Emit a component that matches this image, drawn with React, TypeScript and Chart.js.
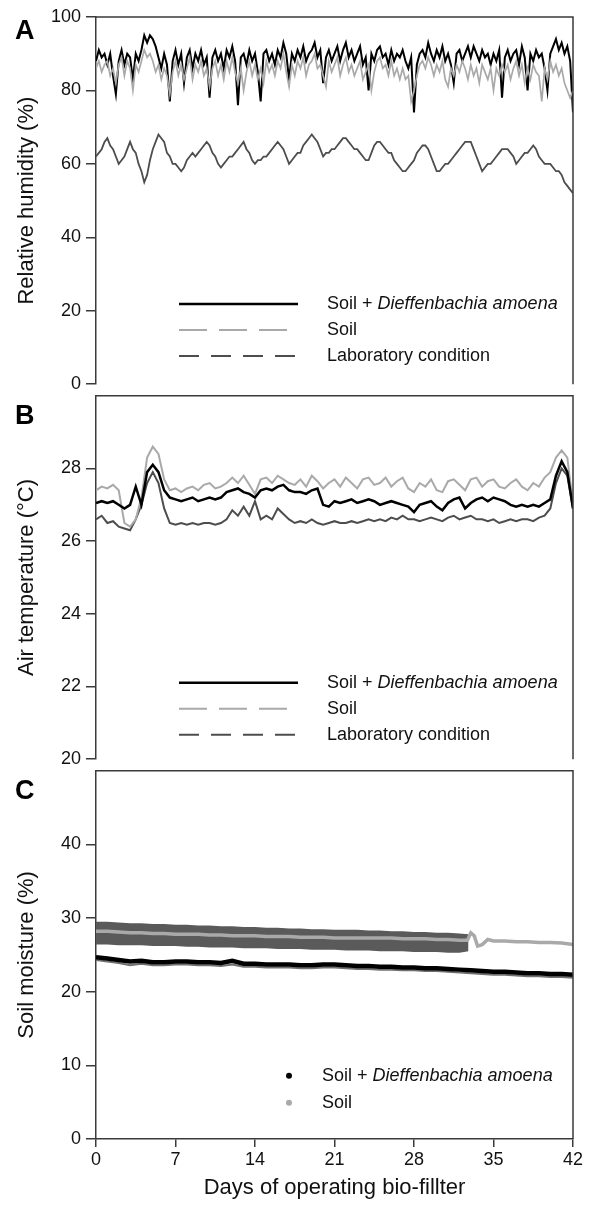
import React, { useEffect, useRef } from "react";
import { Chart, registerables } from "chart.js";
Chart.register(...registerables);

// ---------- DATA ----------
const STEP_A = 0.25; // days between readings, panel A
const STEP_B = 0.5; // panel B
const X_TICKS = [0, 7, 14, 21, 28, 35, 42];

// Panel A: relative humidity (%)
const rhPlant = [
  88, 91, 89, 90, 87, 90, 84, 79, 88, 91, 87, 90, 89, 83, 90, 88,
  91, 95, 93, 95, 94, 92, 89, 86, 90, 87, 77, 88, 91, 87, 90, 82,
  89, 91, 86, 90, 88, 91, 87, 89, 78, 89, 91, 88, 90, 86, 91, 89,
  92, 88, 76, 89, 90, 87, 91, 88, 90, 85, 77, 90, 91, 88, 90, 87,
  91, 89, 93, 90, 83, 90, 88, 91, 89, 92, 88, 90, 91, 93, 89, 91,
  82, 89, 91, 88, 90, 92, 88, 91, 93, 89, 91, 88, 90, 92, 87, 89,
  80, 90, 88, 91, 92, 89, 90, 87, 91, 88, 90, 89, 91, 88, 86, 89,
  74, 87, 90, 91, 89, 93, 90, 88, 91, 89, 92, 88, 90, 87, 82, 90,
  91, 88, 90, 92, 89, 92, 90, 88, 91, 89, 90, 87, 90, 88, 91, 78,
  89, 91, 88, 90, 91, 87, 92, 89, 80, 90, 88, 91, 89, 90, 86, 80,
  90, 92, 94, 91, 93, 90, 92, 88, 74,
];
const rhSoil = [
  86, 88, 85, 87, 88, 84, 86, 82, 87, 89, 84, 88, 86, 80, 87, 85,
  88, 91, 89, 90, 88, 85, 87, 83, 86, 84, 79, 85, 88, 84, 87, 83,
  86, 89, 83, 87, 85, 88, 84, 86, 81, 86, 88, 84, 87, 83, 88, 85,
  89, 85, 82, 86, 80, 85, 88, 84, 87, 83, 86, 82, 88, 85, 87, 84,
  88, 86, 90, 85, 81, 87, 84, 88, 86, 89, 84, 87, 88, 90, 86, 87,
  84, 81, 88, 85, 87, 89, 84, 87, 89, 85, 87, 84, 86, 88, 83, 85,
  87, 80, 85, 88, 89, 86, 87, 84, 88, 84, 86, 83, 86, 83, 84, 77,
  80, 84, 87, 88, 86, 89, 87, 84, 87, 85, 88, 83, 81, 86, 84, 87,
  85, 88, 86, 83, 87, 84, 86, 82, 87, 85, 83, 86, 80, 86, 84, 87,
  85, 87, 83, 86, 88, 84, 87, 82, 86, 83, 87, 85, 84, 77, 86, 83,
  88, 85, 87, 84, 86, 82, 80, 78, 80,
];
const rhLab = [
  62, 63, 64, 66, 67, 65, 64, 62, 60, 61, 62, 64, 66, 64, 63, 60,
  58, 55, 57, 61, 64, 66, 68, 67, 66, 63, 62, 60, 60, 59, 58, 59,
  61, 62, 63, 62, 63, 64, 65, 66, 65, 63, 62, 60, 59, 60, 61, 62,
  62, 63, 64, 65, 66, 64, 63, 61, 60, 61, 61, 62, 62, 63, 64, 65,
  66, 65, 64, 62, 60, 61, 62, 63, 63, 65, 66, 67, 68, 67, 66, 64,
  62, 63, 63, 64, 64, 65, 66, 67, 67, 66, 65, 64, 64, 63, 62, 61,
  61, 63, 65, 66, 66, 65, 64, 63, 63, 61, 60, 59, 58, 58, 59, 60,
  61, 63, 64, 65, 65, 64, 62, 60, 58, 58, 59, 60, 60, 61, 62, 63,
  64, 65, 66, 66, 66, 64, 62, 60, 58, 59, 60, 60, 61, 62, 63, 64,
  64, 64, 63, 62, 60, 61, 62, 63, 63, 64, 65, 64, 62, 61, 60, 60,
  60, 59, 58, 58, 57, 55, 54, 53, 52,
];

// Panel B: air temperature (°C)
const tPlant = [
  27.05, 27.1, 27.05, 27.1, 27.0, 26.9, 27.0, 27.5, 27.0, 27.9,
  28.1, 27.9, 27.4, 27.2, 27.15, 27.1, 27.15, 27.2, 27.1, 27.15,
  27.2, 27.15, 27.2, 27.35, 27.4, 27.45, 27.35, 27.3, 27.2, 27.4,
  27.45, 27.4, 27.5, 27.55, 27.4, 27.35, 27.35, 27.3, 27.4, 27.45,
  27.0, 26.95, 27.1, 27.05, 27.1, 27.15, 27.05, 27.1, 27.15, 27.1,
  27.0, 27.05, 27.1, 27.05, 27.0, 26.95, 26.8, 27.0, 27.05, 27.1,
  26.95, 26.85, 27.05, 27.15, 27.2, 26.9, 27.05, 27.15, 27.2, 27.1,
  27.2, 27.15, 27.1, 27.0, 26.95, 27.0, 26.95, 27.0, 26.95, 27.05,
  27.15, 27.8, 28.2, 27.9, 26.9,
];
const tSoil = [
  27.4, 27.5, 27.45, 27.55, 27.4, 26.5, 26.4, 26.6, 27.2, 28.3,
  28.6, 28.4, 27.7, 27.4, 27.45, 27.35, 27.45, 27.5, 27.4, 27.55,
  27.6, 27.45, 27.5, 27.6, 27.75, 27.6, 27.8, 27.55, 27.3, 27.7,
  27.75, 27.6, 27.8, 27.7, 27.6, 27.55, 27.7, 27.5, 27.8, 27.65,
  27.45, 27.6, 27.7, 27.5, 27.75, 27.6, 27.45, 27.7, 27.75, 27.55,
  27.6, 27.75, 27.5, 27.65, 27.75, 27.45, 27.35, 27.6, 27.5, 27.7,
  27.4, 27.35, 27.65, 27.7, 27.55, 27.4, 27.7, 27.75, 27.5, 27.65,
  27.7, 27.5, 27.45, 27.6, 27.7, 27.5, 27.4, 27.6, 27.5, 27.75,
  27.9, 28.3, 28.5, 28.3, 27.0,
];
const tLab = [
  26.6, 26.7, 26.5, 26.55, 26.4, 26.35, 26.3, 26.6, 27.0, 27.6,
  27.9, 27.6, 26.9, 26.5, 26.45, 26.5, 26.45, 26.5, 26.45, 26.5,
  26.5, 26.45, 26.5, 26.6, 26.85, 26.7, 26.95, 26.7, 27.1, 26.6,
  26.7, 26.6, 26.9, 26.75, 26.6, 26.5, 26.55, 26.5, 26.6, 26.5,
  26.45, 26.5, 26.55, 26.5, 26.5, 26.55, 26.5, 26.55, 26.6, 26.55,
  26.6, 26.55, 26.65, 26.6, 26.7, 26.6, 26.6, 26.55, 26.6, 26.65,
  26.6, 26.55, 26.65, 26.7, 26.6, 26.65, 26.7, 26.6, 26.6, 26.55,
  26.6, 26.5, 26.55, 26.6, 26.55, 26.6, 26.6, 26.55, 26.65, 26.7,
  26.9, 27.6, 28.0, 27.8, 26.9,
];

// Panel C: soil moisture (%)
const smPlantDays = [
  0, 1, 2, 3, 4, 5, 6, 7, 8, 9, 10, 11, 12, 13, 14, 15, 16, 17, 18, 19, 20,
  21, 22, 23, 24, 25, 26, 27, 28, 29, 30, 31, 32, 33, 34, 35, 36, 37, 38, 39,
  40, 41, 42,
];
const smPlant = [
  24.7, 24.5, 24.3, 24.1, 24.2, 24.0, 24.0, 24.1, 24.1, 24.0, 24.0, 23.9,
  24.2, 23.8, 23.8, 23.7, 23.7, 23.7, 23.6, 23.6, 23.7, 23.7, 23.6, 23.5,
  23.5, 23.4, 23.4, 23.3, 23.3, 23.2, 23.2, 23.1, 23.0, 22.9, 22.8, 22.7,
  22.7, 22.6, 22.5, 22.5, 22.4, 22.4, 22.3,
];
const smPlantLower = [
  24.3, 24.1, 23.9, 23.6, 23.8, 23.6, 23.6, 23.7, 23.7, 23.6, 23.6, 23.5,
  23.7, 23.4, 23.4, 23.3, 23.3, 23.3, 23.2, 23.2, 23.3, 23.3, 23.2, 23.1,
  23.1, 23.0, 23.0, 22.9, 22.9, 22.8, 22.8, 22.7, 22.6, 22.5, 22.4, 22.3,
  22.3, 22.2, 22.1, 22.1, 22.0, 22.0, 21.9,
];
const smSoilDays = [
  0, 1, 2, 3, 4, 5, 6, 7, 8, 9, 10, 11, 12, 13, 14, 15, 16, 17, 18, 19, 20,
  21, 22, 23, 24, 25, 26, 27, 28, 29, 30, 31, 32, 32.7, 33, 33.3, 33.6, 34,
  34.5, 35, 36, 37, 38, 39, 40, 41, 42,
];
const smSoil = [
  28.2, 28.2, 28.1, 28.0, 28.0, 27.9, 27.9, 27.8, 27.8, 27.8, 27.7, 27.7,
  27.6, 27.6, 27.6, 27.5, 27.5, 27.5, 27.4, 27.4, 27.4, 27.3, 27.3, 27.3,
  27.3, 27.3, 27.3, 27.2, 27.2, 27.2, 27.1, 27.1, 27.0, 27.0, 28.0, 27.6,
  26.2, 26.4, 27.1, 26.9, 26.9, 26.8, 26.8, 26.7, 26.7, 26.6, 26.4,
];
const smBandDays = [
  0, 1, 2, 3, 4, 5, 6, 7, 8, 9, 10, 11, 12, 13, 14, 15, 16, 17, 18, 19, 20,
  21, 22, 23, 24, 25, 26, 27, 28, 29, 30, 31, 32, 32.8,
];
const smSoilUpper = [
  29.5, 29.5, 29.4, 29.3, 29.3, 29.2, 29.2, 29.1, 29.1, 29.0, 29.0, 28.9,
  28.9, 28.8, 28.8, 28.7, 28.7, 28.6, 28.6, 28.5, 28.5, 28.4, 28.4, 28.4,
  28.3, 28.3, 28.2, 28.2, 28.1, 28.1, 28.0, 28.0, 27.9, 27.8,
];
const smSoilLower = [
  26.4, 26.4, 26.3, 26.3, 26.3, 26.2, 26.2, 26.2, 26.1, 26.1, 26.0, 26.0,
  26.0, 25.9, 25.9, 25.9, 25.8, 25.8, 25.8, 25.7, 25.7, 25.7, 25.6, 25.6,
  25.6, 25.5, 25.5, 25.5, 25.4, 25.4, 25.4, 25.3, 25.3, 25.5,
];

const LABEL_PLANT = ["Soil + ", "Dieffenbachia amoena"];
const LABEL_SOIL = "Soil";
const LABEL_LAB = "Laboratory condition";

// ---------- STYLE ----------
const FONT = '"Liberation Sans", Arial, Helvetica, sans-serif';
const TEXT = "#111111";
const AXIS = "#3a3a3a";
const C_PLANT = "#000000";
const C_SOIL = "#a9a9a9";
const C_LAB = "#4d4d4d";
const C_BAND = "#5a5a5a";
const C_EDGE = "#707070";

const toXY = (vals: number[], step: number) =>
  vals.map((v, i) => ({ x: i * step, y: v }));
const zipXY = (days: number[], vals: number[]) =>
  vals.map((v, i) => ({ x: days[i], y: v }));

const decorPlugin = {
  id: "decor",
  afterDraw(chart: any, _args: any, opts: any) {
    const { ctx } = chart;
    const { left, top, right, bottom } = chart.chartArea;
    ctx.save();
    ctx.strokeStyle = AXIS;
    ctx.lineWidth = 1.5;
    ctx.setLineDash([]);
    ctx.beginPath();
    ctx.moveTo(left, top);
    ctx.lineTo(right, top);
    ctx.lineTo(right, bottom);
    ctx.stroke();
    ctx.fillStyle = "#000";
    ctx.font = `bold 27px ${FONT}`;
    ctx.textAlign = "left";
    ctx.textBaseline = "alphabetic";
    ctx.fillText(opts.letter, 15, top + opts.letterDy);
    const lg = opts.legend;
    lg.items.forEach((it: any, i: number) => {
      const y = top + lg.dy + i * lg.gap;
      if (it.kind === "line") {
        ctx.strokeStyle = it.color;
        ctx.lineWidth = it.width;
        ctx.setLineDash(it.dash);
        ctx.beginPath();
        ctx.moveTo(left + lg.x0, y);
        ctx.lineTo(left + lg.x1, y);
        ctx.stroke();
        ctx.setLineDash([]);
      } else {
        ctx.fillStyle = it.color;
        ctx.beginPath();
        ctx.arc(left + lg.dotX, y, it.r, 0, Math.PI * 2);
        ctx.fill();
      }
      let x = left + lg.tx;
      ctx.fillStyle = TEXT;
      ctx.textBaseline = "middle";
      it.parts.forEach((p: any) => {
        ctx.font = `${p.italic ? "italic " : ""}18px ${FONT}`;
        ctx.fillText(p.t, x, y);
        x += ctx.measureText(p.t).width;
      });
    });
    ctx.restore();
  },
};

const lineLegend = {
  dy: 287,
  gap: 26,
  x0: 83,
  x1: 202,
  tx: 231,
  items: [
    { kind: "line", color: C_PLANT, width: 2.5, dash: [], parts: [{ t: LABEL_PLANT[0] }, { t: LABEL_PLANT[1], italic: true }] },
    { kind: "line", color: C_SOIL, width: 2, dash: [28, 12], parts: [{ t: LABEL_SOIL }] },
    { kind: "line", color: C_LAB, width: 2, dash: [20, 12], parts: [{ t: LABEL_LAB }] },
  ],
};
const dotLegend = {
  dy: 305,
  gap: 27,
  dotX: 193,
  tx: 226,
  items: [
    { kind: "dot", color: C_PLANT, r: 3, parts: [{ t: LABEL_PLANT[0] }, { t: LABEL_PLANT[1], italic: true }] },
    { kind: "dot", color: C_SOIL, r: 3, parts: [{ t: LABEL_SOIL }] },
  ],
};

function yAxis(min: number, max: number, step: number, title: string, hideMax: boolean) {
  return {
    type: "linear",
    min,
    max,
    ticks: { stepSize: step, color: TEXT, font: { family: FONT, size: 18 }, padding: 5 },
    grid: { drawOnChartArea: false, drawTicks: true, tickLength: 10, color: AXIS, lineWidth: 1.5 },
    border: { display: true, color: AXIS, width: 1.5 },
    title: { display: true, text: title, color: TEXT, font: { family: FONT, size: 22 }, padding: { top: 14, bottom: 0 } },
    afterFit: (s: any) => {
      s.width = 96;
    },
    afterBuildTicks: (s: any) => {
      if (hideMax) s.ticks = s.ticks.filter((t: any) => t.value < max);
    },
  };
}

const lineDs = (data: any[], color: string, width: number) => ({
  data,
  borderColor: color,
  backgroundColor: color,
  borderWidth: width,
  pointRadius: 0,
  tension: 0,
  fill: false,
});

function makeConfig(panel: "A" | "B" | "C"): any {
  const base = {
    animation: false,
    responsive: false,
    maintainAspectRatio: false,
    events: [],
  };
  if (panel === "A") {
    return {
      type: "line",
      data: {
        datasets: [
          lineDs(toXY(rhSoil, STEP_A), C_SOIL, 1.7),
          lineDs(toXY(rhPlant, STEP_A), C_PLANT, 2),
          lineDs(toXY(rhLab, STEP_A), C_LAB, 1.8),
        ],
      },
      options: {
        ...base,
        layout: { padding: { left: 0, right: 21, top: 17, bottom: 15 } },
        plugins: {
          legend: { display: false },
          tooltip: { enabled: false },
          decor: { letter: "A", letterDy: 22, legend: lineLegend },
        },
        scales: {
          x: { type: "linear", min: 0, max: 42, display: false },
          y: yAxis(0, 100, 20, "Relative humidity (%)", false),
        },
      },
      plugins: [decorPlugin],
    };
  }
  if (panel === "B") {
    return {
      type: "line",
      data: {
        datasets: [
          lineDs(toXY(tPlant, STEP_B), C_PLANT, 2.5),
          lineDs(toXY(tSoil, STEP_B), C_SOIL, 2),
          lineDs(toXY(tLab, STEP_B), C_LAB, 2),
        ],
      },
      options: {
        ...base,
        layout: { padding: { left: 0, right: 21, top: 13, bottom: 15 } },
        plugins: {
          legend: { display: false },
          tooltip: { enabled: false },
          decor: { letter: "B", letterDy: 28, legend: lineLegend },
        },
        scales: {
          x: { type: "linear", min: 0, max: 42, display: false },
          y: yAxis(20, 30, 2, "Air temperature (°C)", true),
        },
      },
      plugins: [decorPlugin],
    };
  }
  return {
    type: "line",
    data: {
      datasets: [
        lineDs(zipXY(smPlantDays, smPlant), C_PLANT, 4.5),
        lineDs(zipXY(smPlantDays, smPlantLower), C_EDGE, 2),
        lineDs(zipXY(smSoilDays, smSoil), C_SOIL, 3.5),
        { ...lineDs(zipXY(smBandDays, smSoilUpper), C_BAND, 0), fill: "+1", backgroundColor: C_BAND },
        { ...lineDs(zipXY(smBandDays, smSoilLower), C_BAND, 0) },
      ],
    },
    options: {
      ...base,
      layout: { padding: { left: 0, right: 21, top: 12, bottom: 0 } },
      plugins: {
        legend: { display: false },
        tooltip: { enabled: false },
        decor: { letter: "C", letterDy: 28, legend: dotLegend },
      },
      scales: {
        x: {
          type: "linear",
          min: 0,
          max: 42,
          afterBuildTicks: (s: any) => {
            s.ticks = X_TICKS.map((v) => ({ value: v }));
          },
          ticks: { color: TEXT, font: { family: FONT, size: 18 }, padding: 2 },
          grid: { drawOnChartArea: false, drawTicks: true, tickLength: 8, color: AXIS, lineWidth: 1.5 },
          border: { display: true, color: AXIS, width: 1.5 },
          title: {
            display: true,
            text: "Days of operating bio-fillter",
            color: TEXT,
            font: { family: FONT, size: 22 },
            padding: { top: 0, bottom: 10 },
          },
          afterFit: (s: any) => {
            s.height = 72;
          },
        },
        y: yAxis(0, 50, 10, "Soil moisture (%)", true),
      },
    },
    plugins: [decorPlugin],
  };
}

const PANELS: { id: "A" | "B" | "C"; top: number; height: number }[] = [
  { id: "A", top: 0, height: 400 },
  { id: "B", top: 380, height: 395 },
  { id: "C", top: 755, height: 456 },
];

export default function App() {
  const refs = [useRef<HTMLCanvasElement>(null), useRef<HTMLCanvasElement>(null), useRef<HTMLCanvasElement>(null)];
  useEffect(() => {
    const charts = PANELS.map((p, i) => new Chart(refs[i].current as HTMLCanvasElement, makeConfig(p.id)));
    return () => charts.forEach((c) => c.destroy());
  }, []);
  return (
    <div style={{ position: "absolute", left: 0, top: 0, width: 594, height: 1211, background: "#fff" }}>
      {PANELS.map((p, i) => (
        <canvas
          key={p.id}
          ref={refs[i]}
          width={594}
          height={p.height}
          style={{ position: "absolute", left: 0, top: p.top, width: 594, height: p.height, display: "block" }}
        />
      ))}
    </div>
  );
}
